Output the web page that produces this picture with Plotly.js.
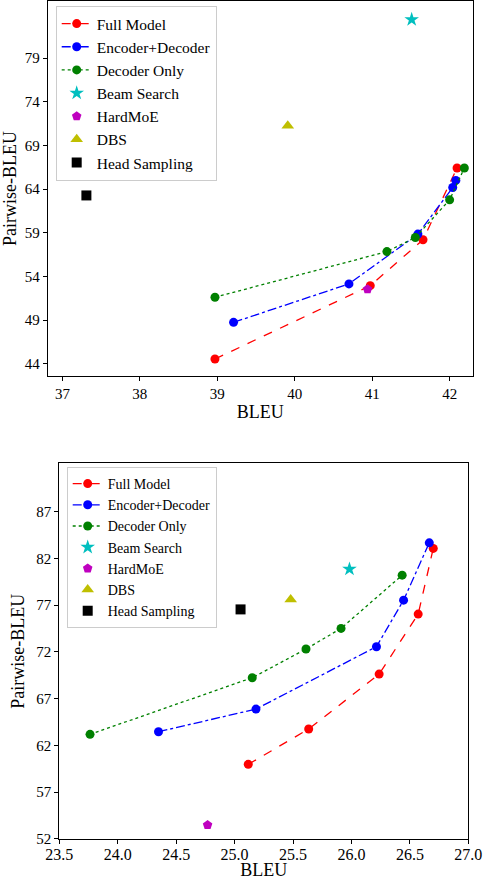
<!DOCTYPE html>
<html>
<head>
<meta charset="utf-8">
<script src="https://cdn.plot.ly/plotly-3.0.1.min.js"></script>
<style>
  html, body { margin: 0; padding: 0; background: #fff; }
  #plot { width: 484px; height: 880px; }
</style>
</head>
<body>
<div id="plot"></div>
<script>
// top panel
const topFullX = [38.97, 40.975, 41.656, 42.096];
const topFullY = [44.54, 52.94, 58.19, 66.41];
const topEncDecX = [39.21, 40.70, 41.59, 42.04, 42.08];
const topEncDecY = [48.74, 53.14, 58.84, 64.18, 64.99];
const topDecX = [38.97, 41.19, 41.557, 42.0, 42.19];
const topDecY = [51.61, 56.84, 58.45, 62.77, 66.41];
const topBeam = [41.51, 83.41];
const topHardMoE = [40.94, 52.52];
const topDBS = [39.91, 71.26];
const topHead = [37.31, 63.27];

// bottom panel
const botFullX = [25.117, 25.634, 26.237, 26.571, 26.70];
const botFullY = [59.98, 63.76, 69.63, 76.05, 83.07];
const botEncDecX = [24.349, 25.183, 26.214, 26.446, 26.666];
const botEncDecY = [63.47, 65.89, 72.56, 77.54, 83.67];
const botDecX = [23.763, 25.151, 25.611, 25.911, 26.434];
const botDecY = [63.19, 69.24, 72.31, 74.52, 80.21];
const botBeam = [25.983, 80.86];
const botHardMoE = [24.769, 53.50];
const botDBS = [25.48, 77.6];
const botHead = [25.051, 76.55];

const topXTicks = [37, 38, 39, 40, 41, 42];
const topYTicks = [44, 49, 54, 59, 64, 69, 74, 79];
const botXTicks = [23.5, 24.0, 24.5, 25.0, 25.5, 26.0, 26.5, 27.0];
const botYTicks = [52, 57, 62, 67, 72, 77, 82, 87];

const FONT = 'Liberation Serif';

function panel(p, legend) {
  const xa = p === 1 ? 'x' : 'x2';
  const ya = p === 1 ? 'y' : 'y2';
  const d = p === 1
    ? { fx: topFullX, fy: topFullY, ex: topEncDecX, ey: topEncDecY, dx: topDecX, dy: topDecY,
        beam: topBeam, moe: topHardMoE, dbs: topDBS, head: topHead }
    : { fx: botFullX, fy: botFullY, ex: botEncDecX, ey: botEncDecY, dx: botDecX, dy: botDecY,
        beam: botBeam, moe: botHardMoE, dbs: botDBS, head: botHead };
  const base = { type: 'scatter', xaxis: xa, yaxis: ya, legend: legend, cliponaxis: false };
  const ms = 9;
  return [
    { ...base, name: 'Full Model', mode: 'lines+markers', x: d.fx, y: d.fy,
      line: { color: '#ff0000', width: 1.3, dash: 'dash' }, marker: { color: '#ff0000', size: ms } },
    { ...base, name: 'Encoder+Decoder', mode: 'lines+markers', x: d.ex, y: d.ey,
      line: { color: '#0000ff', width: 1.3, dash: 'dashdot' }, marker: { color: '#0000ff', size: ms } },
    { ...base, name: 'Decoder Only', mode: 'lines+markers', x: d.dx, y: d.dy,
      line: { color: '#008000', width: 1.3, dash: 'dot' }, marker: { color: '#008000', size: ms } },
    { ...base, name: 'Beam Search', mode: 'markers', x: [d.beam[0]], y: [d.beam[1]],
      marker: { color: '#00bfbf', size: 11, symbol: 'star' } },
    { ...base, name: 'HardMoE', mode: 'markers', x: [d.moe[0]], y: [d.moe[1]],
      marker: { color: '#bf00bf', size: 10, symbol: 'pentagon' } },
    { ...base, name: 'DBS', mode: 'markers', x: [d.dbs[0]], y: [d.dbs[1]],
      marker: { color: '#bfbf00', size: 11, symbol: 'triangle-up' } },
    { ...base, name: 'Head Sampling', mode: 'markers', x: [d.head[0]], y: [d.head[1]],
      marker: { color: '#000000', size: 10, symbol: 'square' } }
  ];
}

const data = [...panel(1, 'legend'), ...panel(2, 'legend2')];

const axisBase = {
  showgrid: false, zeroline: false, showline: true, mirror: true,
  linecolor: '#000', linewidth: 1, ticks: 'outside', ticklen: 4, tickcolor: '#000',
  tickfont: { family: FONT, size: 15, color: '#000' }
};

const layout = {
  width: 484, height: 880,
  margin: { l: 0, r: 0, t: 0, b: 0 },
  paper_bgcolor: '#fff', plot_bgcolor: '#fff',
  font: { family: FONT, color: '#000' },
  showlegend: true,
  xaxis: { ...axisBase, domain: [0.0985, 0.977], range: [36.81, 42.30], tickvals: topXTicks,
    anchor: 'y', title: { text: 'BLEU', font: { family: FONT, size: 18 }, standoff: 4 } },
  yaxis: { ...axisBase, domain: [0.5727, 0.9989], range: [42.59, 85.54], tickvals: topYTicks,
    anchor: 'x', title: { text: 'Pairwise-BLEU', font: { family: FONT, size: 18 }, standoff: 9 } },
  xaxis2: { ...axisBase, domain: [0.1225, 0.9676], range: [23.5, 27.0], tickvals: botXTicks,
    tickformat: '.1f', anchor: 'y2', ticklabelstandoff: -3,
    tickfont: { family: FONT, size: 16, color: '#000' },
    title: { text: 'BLEU', font: { family: FONT, size: 18 } } },
  yaxis2: { ...axisBase, domain: [0.0466, 0.4735], range: [52, 92.17], tickvals: botYTicks,
    anchor: 'x2', title: { text: 'Pairwise-BLEU', font: { family: FONT, size: 18 }, standoff: 6 } },
  legend: {
    x: 55.7 / 484, y: 1 - 6 / 880, xanchor: 'left', yanchor: 'top',
    bgcolor: 'rgba(255,255,255,0.8)', bordercolor: '#cccccc', borderwidth: 1,
    font: { family: FONT, size: 15.5, color: '#000' }
  },
  legend2: {
    x: 66.7 / 484, y: 1 - 467 / 880, xanchor: 'left', yanchor: 'top',
    bgcolor: 'rgba(255,255,255,0.8)', bordercolor: '#cccccc', borderwidth: 1,
    font: { family: FONT, size: 14, color: '#000' }
  }
};

Plotly.newPlot('plot', data, layout, { displayModeBar: false, staticPlot: true });
</script>
</body>
</html>
